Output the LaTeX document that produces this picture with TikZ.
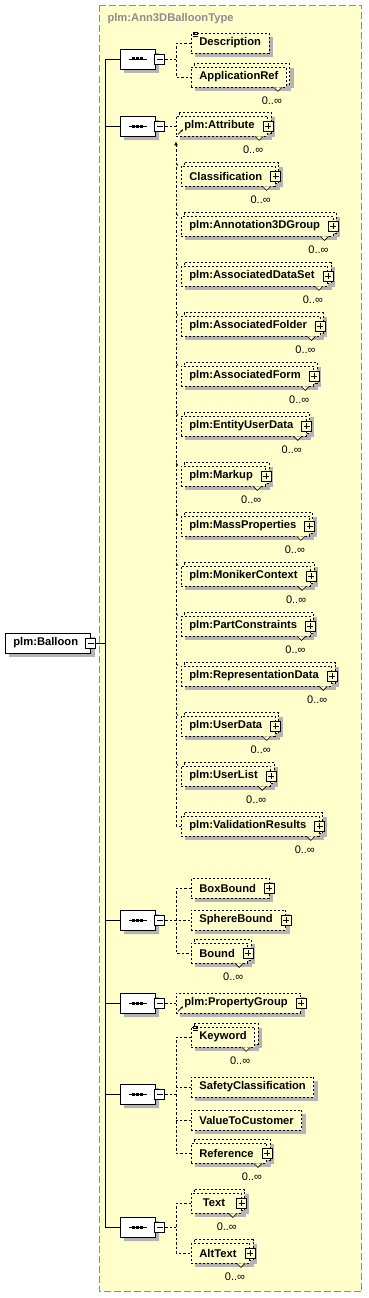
\documentclass[tikz,border=0pt]{standalone}
\usepackage{fontspec}
\setmainfont{Liberation Sans}
\usetikzlibrary{arrows.meta,positioning,calc,shapes.misc}
\pgfdeclarelayer{typelayer}
\pgfdeclarelayer{shadelayer}
\pgfsetlayers{typelayer,shadelayer,main}
\definecolor{typefill}{HTML}{FFFFCC}
\definecolor{typeline}{HTML}{8C8C8C}
\definecolor{shadowgray}{HTML}{B4B4B4}
\tikzset{
  elem/.style={draw,line width=0.8pt,dash pattern=on 2pt off 2pt,fill=typefill,anchor=west,font=\fontsize{11.2}{12}\selectfont\bfseries,minimum height=20pt,inner xsep=8pt,inner ysep=0pt},
  haskids/.style={execute at end node=\kern5pt},
  backcopy/.style={draw,line width=0.8pt,dash pattern=on 2pt off 2pt,fill=typefill},
  expander/.style={draw,solid,line width=0.8pt,minimum size=10pt,inner sep=0pt},
  plusbox/.style={expander,fill=typefill,path picture={
    \draw[line width=0.8pt] ([xshift=2pt]path picture bounding box.west) -- ([xshift=-2pt]path picture bounding box.east);
    \draw[line width=0.8pt] ([yshift=-2pt]path picture bounding box.north) -- ([yshift=2pt]path picture bounding box.south);}},
  minusbox/.style={expander,fill=white,path picture={
    \draw[line width=0.8pt] ([xshift=2pt]path picture bounding box.west) -- ([xshift=-2pt]path picture bounding box.east);}},
  octo/.style={chamfered rectangle,chamfered rectangle xsep=6pt,minimum width=35pt,minimum height=20pt,inner sep=0pt},
  seqbox/.style={octo,draw,line width=0.8pt,fill=white},
  rootbox/.style={draw,line width=0.8pt,fill=white,anchor=west,font=\fontsize{11.2}{12}\selectfont\bfseries,minimum height=20pt,inner xsep=8pt,inner ysep=0pt,execute at end node=\kern4pt},
  link/.style={line width=0.8pt,dash pattern=on 2.5pt off 2pt},
  occurs/.style={font=\fontsize{11}{12}\selectfont},
}
\begin{document}
\begin{tikzpicture}[x=1pt,y=-1pt]
  \useasboundingbox (0,0) rectangle (368,1298);
  \begin{pgfonlayer}{typelayer}
    \draw[typeline,line width=0.8pt,dash pattern=on 7pt off 3pt,fill=typefill] (99.5,5.5) rectangle (361.5,1291.5);
  \end{pgfonlayer}
  \node[anchor=west,text=typeline,font=\fontsize{11.2}{12}\selectfont\bfseries] (typename) at (104,19) {plm:Ann3DBalloonType};
  % root element
  \node[rootbox] (balloon) at (5,643) {plm:Balloon};
  \node[minusbox] (bm) at (balloon.east) {};
  \coordinate (spine) at (105,0);
  % compositors
  \foreach \i/\y in {1/59,2/126,3/920,4/1003,5/1094,6/1227} {
    \node[seqbox] (s\i) at (137.5,\y) {};
    \node[minusbox,anchor=west] (sm\i) at ([xshift=-1pt]s\i.east) {};
    \coordinate (j\i) at ([xshift=11pt]sm\i.east);
    \draw[line width=0.8pt] (s\i.west) -- (s\i.west -| spine);
    \draw[line width=0.8pt] ([xshift=-9pt]s\i.center) -- ([xshift=9pt]s\i.center);
    \foreach \d in {-4,0,4}
      \fill ([xshift=\d pt]s\i.center) +(-1.5,-1.5) rectangle +(1.5,1.5);
  }
  \draw[line width=0.8pt] (s1.west -| spine) -- (s6.west -| spine);
  \draw[line width=0.8pt] (bm.east) -- (bm.east -| spine);
  % first sequence
  \node[elem] (desc) at (191,43) {Description};
  \node[elem] (appref) at (191,77) {ApplicationRef};
  \draw[link] (desc.west) -| (j1) |- (appref.west);
  \draw[link] (sm1.east) -- (j1);
  % substitution group
  \node[elem,haskids] (attr) at (176,126) {plm:Attribute};
  \draw[link] (sm2.east) -- (attr.west);
  \foreach \t [count=\i] in {Classification,plm:Annotation3DGroup,plm:AssociatedDataSet,plm:AssociatedFolder,plm:AssociatedForm,plm:EntityUserData,plm:Markup,plm:MassProperties,plm:MonikerContext,plm:PartConstraints,plm:RepresentationData,plm:UserData,plm:UserList,plm:ValidationResults}
    \node[elem,haskids] (m\i) at (181,{126+50*\i}) {\t};
  \draw[link,-{Latex[length=4pt,width=4pt]}] (m14.west) -| ([yshift=-5pt]attr.south west);
  \foreach \i in {1,...,13}
    \draw[line width=0.6pt] ([xshift=-5pt,yshift=3pt]m\i.north west) -- ([xshift=-3pt]m\i.north west);
  % bounds
  \node[elem,haskids] (boxb) at (191,888) {BoxBound};
  \node[elem,haskids] (sphere) at (191,920) {SphereBound};
  \node[elem,haskids] (bound) at (191,953) {Bound};
  \draw[link] (boxb.west) -| (j3) |- (bound.west);
  \draw[link] (sm3.east) -- (sphere.west);
  % property group
  \node[elem,haskids] (pgroup) at (176,1003) {plm:PropertyGroup};
  \draw[link] (sm4.east) -- (pgroup.west);
  % keywords
  \node[elem] (keyword) at (191,1037) {Keyword};
  \node[elem] (safety) at (191,1087) {SafetyClassification};
  \node[elem] (value) at (191,1120) {ValueToCustomer};
  \node[elem,haskids] (reference) at (191,1153) {Reference};
  \draw[link] (keyword.west) -| (j5) |- (reference.west);
  \draw[link] (sm5.east) -- (j5);
  \draw[link] (safety.west) -- (safety.west -| j5);
  \draw[link] (value.west) -- (value.west -| j5);
  % texts
  \node[elem,haskids,minimum width=50pt] (txt) at (191,1203) {Text};
  \node[elem,haskids] (alttext) at (191,1253) {AltText};
  \draw[link] (txt.west) -| (j6) |- (alttext.west);
  \draw[link] (sm6.east) -- (j6);
  % shadows and back copies of repeated elements
  \begin{pgfonlayer}{shadelayer}
    \foreach \n in {appref,attr,m1,m2,m3,m4,m5,m6,m7,m8,m9,m10,m11,m12,m13,m14,bound,keyword,reference,txt,alttext}
      \fill[fill=shadowgray] ([shift={(7pt,-1pt)}]\n.north west) rectangle ([shift={(7pt,-1pt)}]\n.south east);
    \foreach \n in {balloon,desc,appref,attr,m1,m2,m3,m4,m5,m6,m7,m8,m9,m10,m11,m12,m13,m14,boxb,sphere,bound,pgroup,keyword,safety,value,reference,txt,alttext}
      \fill[fill=shadowgray] ([shift={(4pt,-4pt)}]\n.north west) rectangle ([shift={(4pt,-4pt)}]\n.south east);
    \foreach \i in {1,...,6}
      \node[octo,fill=shadowgray] (s\i-sh) at ([shift={(4pt,-4pt)}]s\i.center) {};
    \foreach \n in {appref,attr,m1,m2,m3,m4,m5,m6,m7,m8,m9,m10,m11,m12,m13,m14,bound,keyword,reference,txt,alttext}
      \draw[backcopy] ([shift={(3pt,3pt)}]\n.north west) rectangle ([shift={(3pt,3pt)}]\n.south east);
  \end{pgfonlayer}
  % expanders, occurrences and icons
  \foreach \n in {attr,m1,m2,m3,m4,m5,m6,m7,m8,m9,m10,m11,m12,m13,m14,boxb,sphere,bound,pgroup,reference,txt,alttext}
    \node[plusbox] (\n-x) at (\n.east) {};
  \foreach \n in {appref,attr,m1,m2,m3,m4,m5,m6,m7,m8,m9,m10,m11,m12,m13,m14,bound,keyword,reference,txt,alttext} {
    \filldraw[fill=typefill,line width=0.6pt] ([xshift=-13pt]\n.south east) -- ([xshift=-9pt,yshift=-4pt]\n.south east) -- ([xshift=-5pt]\n.south east);
    \node[occurs] (\n-o) at ([xshift=-15pt,yshift=-13pt]\n.south east) {0..∞};
  }
  \foreach \n in {attr,pgroup}
    \draw[line width=0.8pt,-{Stealth[length=2.5pt,width=2.5pt]}] ([xshift=2pt,yshift=2pt]\n.south west) -- ++(5,-5);
  \foreach \n in {desc,keyword}
    \foreach \k in {0,2,4}
      \draw[line width=0.6pt] ([xshift=2pt,yshift=-\k pt]\n.north west) -- ++(5,0);
\end{tikzpicture}
\end{document}
